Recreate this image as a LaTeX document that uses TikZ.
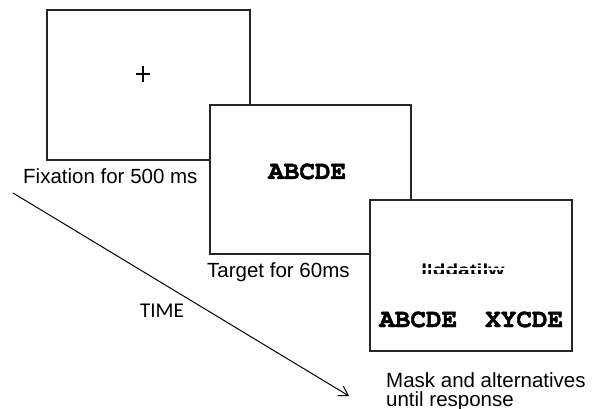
\documentclass[tikz,border=0pt]{standalone}
\usepackage{fontspec}
\setmainfont{Liberation Sans}
\newfontfamily\timefont{Carlito}
\newcommand\stimfont{\fontencoding{T1}\fontfamily{pcr}\fontseries{b}\selectfont}
% heavier letters: fill and stroke the glyph outlines
\newcommand\heavy[1]{\special{pdf:literal direct 2 Tr 0.45 w}#1\special{pdf:literal direct 0 Tr 1 w}}
\usetikzlibrary{arrows.meta}
\begin{document}
\begin{tikzpicture}[x=1pt,y=-1pt,
  screen/.style={draw=black!85,line width=1.4pt,fill=white},
  caption/.style={anchor=base west,inner sep=0pt,font=\fontsize{20.5}{24}\selectfont},
  stim/.style={anchor=base west,inner sep=0pt,font=\stimfont\fontsize{26}{28}\selectfont},
  timeline/.style={line width=1pt,-{Straight Barb[length=9pt,width=11pt,line width=1pt]}}]
\useasboundingbox (0,0) rectangle (598,409);

% three screens, each one partly covering the previous one
\draw[screen] (47,10) rectangle (250,160);
\draw[screen] (210,105) rectangle (411,254);
\draw[screen] (370,200) rectangle (572,351);

% fixation cross
\draw[line width=1.1pt] (143,66) -- (143,82) (136,74) -- (150,74);

% target string
\node[stim] (target) at (268,179) {\heavy{ABCDE}};

% pattern mask: a letter string broken up by white gaps
\node[anchor=base west,inner sep=0pt,xscale=1.3,font=\bfseries\fontsize{16}{16}\selectfont] (mask) at (421,276) {lIddatilw};
\fill[white] (418,268.5) rectangle (512,270.5);
\fill[white] (418,274) rectangle (512,275.2);
\fill[white] (431,262) rectangle (433,276) (458,262) rectangle (460,268) (482,270) rectangle (484,277);

% the two alternatives
\node[stim] (altA) at (379,327) {\heavy{ABCDE}};
\node[stim] (altB) at (485,327) {\heavy{XYCDE}};

% captions
\node[caption] (cap1) at (23,184) {Fixation for 500 ms};
\node[caption] (cap2) at (207,278) {Target for 60ms};
\node[caption] (cap3) at (386,387) {Mask and alternatives};
\node[caption] (cap4) at (386,406) {until response};

% time axis
\coordinate (tstart) at (13,193);
\coordinate (tend) at (349,396);
\draw[timeline] (tstart) -- (tend);
\node[anchor=base west,inner sep=0pt,font=\timefont\fontsize{21}{24}\selectfont] (timelabel) at (140,317) {TIME};
\end{tikzpicture}
\end{document}
